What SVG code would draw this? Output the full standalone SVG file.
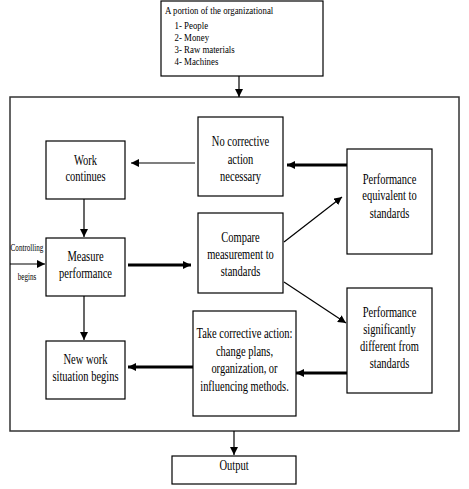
<svg xmlns="http://www.w3.org/2000/svg" width="469" height="489" viewBox="0 0 469 489">
<defs>
<style>
.box{fill:#fff;stroke:#000;stroke-width:1.2}
.frame{fill:none;stroke:#333;stroke-width:1.5}
.t{font-family:"Liberation Serif","Times New Roman",serif;font-size:15px;fill:#000;text-anchor:middle}
.ts{font-family:"Liberation Serif","Times New Roman",serif;font-size:11px;fill:#000}
.tc{font-family:"Liberation Serif","Times New Roman",serif;font-size:9.5px;fill:#000;text-anchor:middle}
.thin{stroke:#000;stroke-width:1.2;fill:none;marker-end:url(#ah)}
.thick{stroke:#000;stroke-width:3;fill:none;marker-end:url(#ah)}
</style>
<marker id="ah" markerUnits="userSpaceOnUse" markerWidth="9" markerHeight="8" refX="8" refY="4" orient="auto">
<path d="M0,0 L8,4 L0,8 Z" fill="#000"/>
</marker>
</defs>
<rect width="469" height="489" fill="#fff"/>
<rect id="frame" class="frame" x="10" y="97" width="449" height="334"/>

<g id="input">
<rect class="box" x="161" y="1" width="162" height="75"/>
<g transform="translate(165,0) scale(0.8,1)">
<text class="ts" x="0" y="14">A portion of  the organizational</text>
<text class="ts" x="12" y="29">1-  People</text>
<text class="ts" x="12" y="41">2-  Money</text>
<text class="ts" x="12" y="53">3-  Raw materials</text>
<text class="ts" x="12" y="65">4-  Machines</text>
</g>
</g>

<g id="work-continues">
<rect class="box" x="46" y="141" width="79" height="58"/>
<g transform="translate(85.5,0) scale(0.7,1)">
<text class="t" x="0" y="165">Work</text>
<text class="t" x="0" y="181">continues</text>
</g>
</g>

<g id="measure">
<rect class="box" x="46" y="238" width="79" height="58"/>
<g transform="translate(85.5,0) scale(0.7,1)">
<text class="t" x="0" y="261">Measure</text>
<text class="t" x="0" y="278">performance</text>
</g>
</g>

<g id="new-work">
<rect class="box" x="46" y="341" width="79" height="58"/>
<g transform="translate(85.5,0) scale(0.7,1)">
<text class="t" x="0" y="364">New work</text>
<text class="t" x="0" y="381">situation begins</text>
</g>
</g>

<g id="no-corrective">
<rect class="box" x="198" y="117" width="85" height="79"/>
<g transform="translate(240.5,0) scale(0.7,1)">
<text class="t" x="0" y="146">No corrective</text>
<text class="t" x="0" y="164">action</text>
<text class="t" x="0" y="181">necessary</text>
</g>
</g>

<g id="compare">
<rect class="box" x="198" y="213" width="85" height="80"/>
<g transform="translate(240.5,0) scale(0.7,1)">
<text class="t" x="0" y="242">Compare</text>
<text class="t" x="0" y="259">measurement to</text>
<text class="t" x="0" y="276">standards</text>
</g>
</g>

<g id="perf-equivalent">
<rect class="box" x="347" y="149" width="85" height="105"/>
<g transform="translate(389.5,0) scale(0.7,1)">
<text class="t" x="0" y="184">Performance</text>
<text class="t" x="0" y="200">equivalent to</text>
<text class="t" x="0" y="218">standards</text>
</g>
</g>

<g id="perf-different">
<rect class="box" x="347" y="288" width="85" height="105"/>
<g transform="translate(389.5,0) scale(0.7,1)">
<text class="t" x="0" y="317">Performance</text>
<text class="t" x="0" y="334">significantly</text>
<text class="t" x="0" y="351">different from</text>
<text class="t" x="0" y="368">standards</text>
</g>
</g>

<g id="take-corrective">
<rect class="box" x="193" y="311" width="103" height="105"/>
<g transform="translate(244.5,0) scale(0.7,1)">
<text class="t" x="0" y="338">Take corrective action:</text>
<text class="t" x="0" y="356">change plans,</text>
<text class="t" x="0" y="373">organization, or</text>
<text class="t" x="0" y="391">influencing methods.</text>
</g>
</g>

<g id="output">
<rect class="box" x="172" y="456" width="124" height="28"/>
<g transform="translate(234,0) scale(0.7,1)">
<text class="t" x="0" y="470">Output</text>
</g>
</g>

<g id="controlling-label" transform="translate(27,0) scale(0.75,1)">
<text class="tc" x="0" y="251">Controlling</text>
<text class="tc" x="0" y="280">begins</text>
</g>

<g id="connectors">
<line class="thin" x1="239" y1="76" x2="239" y2="97"/>
<line class="thin" x1="195" y1="163" x2="131" y2="163"/>
<line class="thick" x1="347" y1="165" x2="287" y2="165"/>
<line class="thin" x1="84" y1="199" x2="84" y2="237"/>
<line class="thin" x1="10" y1="264" x2="45" y2="264"/>
<line class="thick" x1="128" y1="265" x2="191" y2="265"/>
<line class="thin" x1="284" y1="242" x2="342" y2="197"/>
<line class="thin" x1="284" y1="282" x2="346" y2="323"/>
<line class="thick" x1="347" y1="373" x2="296" y2="373"/>
<line class="thick" x1="193" y1="367" x2="128" y2="367"/>
<line class="thin" x1="84" y1="296" x2="84" y2="340"/>
<line class="thin" x1="234" y1="431" x2="234" y2="455"/>
</g>
</svg>
